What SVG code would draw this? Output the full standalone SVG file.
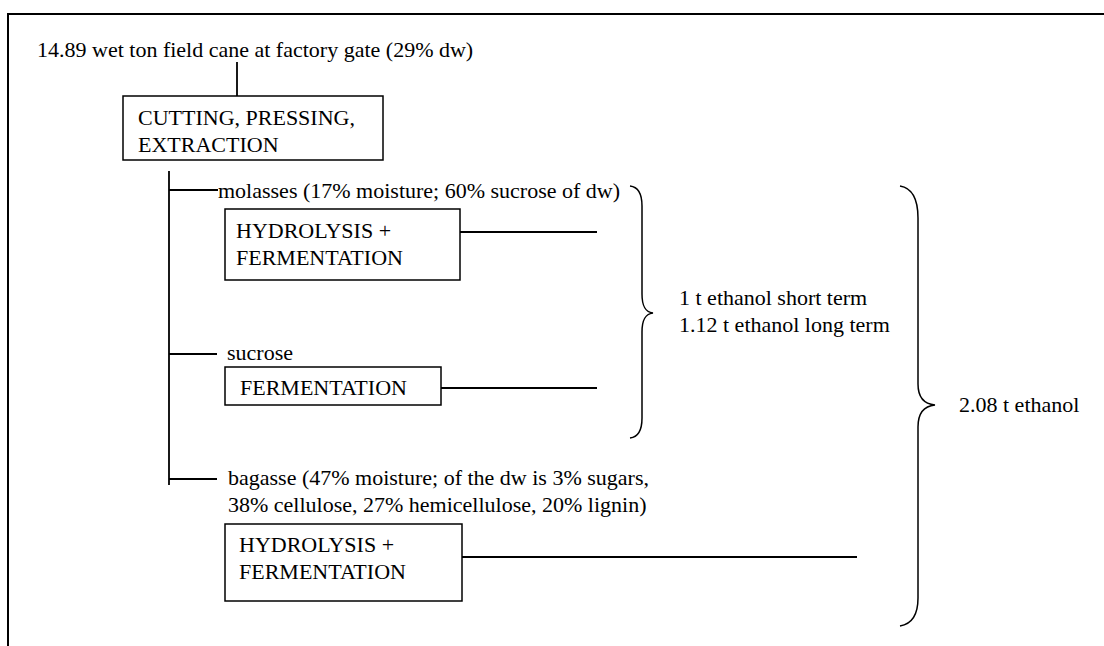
<svg xmlns="http://www.w3.org/2000/svg" width="1104" height="646" viewBox="0 0 1104 646">
<style>
text{font-family:"Liberation Serif","Times New Roman",serif;font-size:22px;fill:#000}
.box{fill:#fff;stroke:#000;stroke-width:1.5}
.ln{fill:none;stroke:#000;stroke-width:1.8}
.br{fill:none;stroke:#000;stroke-width:1.5}
</style>
<rect width="1104" height="646" fill="#fff"/>
<path d="M8,646 L8,14 L1104,14" fill="none" stroke="#000" stroke-width="2"/>
<g id="connectors">
<line class="ln" x1="237" y1="62" x2="237" y2="96"/>
<line class="ln" x1="169" y1="171" x2="169" y2="485"/>
<line class="ln" x1="169" y1="190" x2="218" y2="190"/>
<line class="ln" x1="169" y1="354" x2="217" y2="354"/>
<line class="ln" x1="169" y1="479" x2="217" y2="479"/>
<line class="ln" x1="460" y1="232" x2="597" y2="232"/>
<line class="ln" x1="441" y1="388" x2="597" y2="388"/>
<line class="ln" x1="462" y1="557" x2="857" y2="557"/>
</g>
<g id="title"><text x="37" y="57">14.89 wet ton field cane at factory gate (29% dw)</text></g>
<g id="cutting">
<rect class="box" x="123" y="96" width="260" height="64"/>
<text x="138" y="125">CUTTING, PRESSING,</text>
<text x="138" y="152">EXTRACTION</text>
</g>
<g id="molasses"><text x="218" y="198">molasses (17% moisture; 60% sucrose of dw)</text></g>
<g id="hydrolysis1">
<rect class="box" x="225" y="209" width="235" height="71"/>
<text x="236" y="238">HYDROLYSIS +</text>
<text x="236" y="265">FERMENTATION</text>
</g>
<g id="sucrose"><text x="227" y="360">sucrose</text></g>
<g id="fermentation">
<rect class="box" x="225" y="367" width="216" height="38"/>
<text x="240" y="395">FERMENTATION</text>
</g>
<g id="bagasse">
<text x="228" y="485">bagasse (47% moisture; of the dw is 3% sugars,</text>
<text x="228" y="512">38% cellulose, 27% hemicellulose, 20% lignin)</text>
</g>
<g id="hydrolysis2">
<rect class="box" x="225" y="524" width="237" height="77"/>
<text x="239" y="552">HYDROLYSIS +</text>
<text x="239" y="579">FERMENTATION</text>
</g>
<g id="brace-small">
<path class="br" d="M630,186 C639,187 642,195 642,206 L642,294 C642,306 645,312 653,313 C645,314 642,320 642,332 L642,418 C642,430 639,437 630,438"/>
</g>
<g id="short-long">
<text x="679" y="305">1 t ethanol short term</text>
<text x="679" y="332">1.12 t ethanol long term</text>
</g>
<g id="brace-big">
<path class="br" d="M900,186 C912,188 918,198 918,218 L918,384 C918,397 924,404 935,405 C924,406 918,413 918,427 L918,598 C918,614 912,624 900,626"/>
</g>
<g id="total"><text x="959" y="412">2.08 t ethanol</text></g>
</svg>
